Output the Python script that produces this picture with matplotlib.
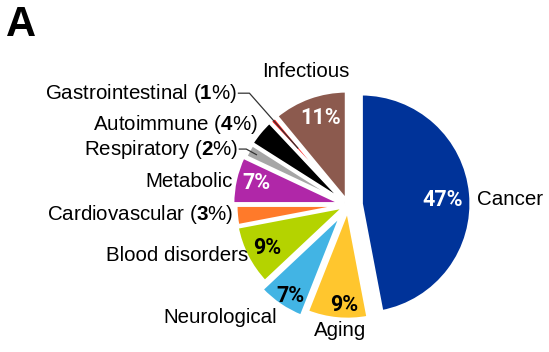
import numpy as np
import matplotlib
matplotlib.use('Agg')
import matplotlib.pyplot as plt

# data, clockwise from 12 o'clock
categories = ['Cancer', 'Aging', 'Neurological', 'Blood disorders', 'Cardiovascular',
              'Metabolic', 'Respiratory', 'Autoimmune', 'Gastrointestinal', 'Infectious']
shares = [47, 9, 7, 9, 3, 7, 2, 4, 1, 11]
# big slices show the percentage inside, small ones in the label
pct_inside = [True, True, True, True, False, True, False, False, False, True]

# styling
colors = ['#003399', '#FFC62E', '#42B4E4', '#B4D300', '#FF7A2A',
          '#B027A8', '#A6A6A6', '#000000', '#FF1A1A', '#8C5A4E']
explode = [0.12, 0.04, 0.10, 0.03, 0.02, 0.05, 0.03, 0.04, 0.04, 0.04]
label_r = [1.17, 1.14, 1.21, 1.02, 1.05, 1.07, 1.12, 1.10, 1.43, 1.27]
label_nudge = [-3, 2, 2, 0, -0.5, 1.3, 1.8, -2, 3.3, -2.3]
label_ha = ['left', 'center', 'right', 'right', 'right', 'right', 'right', 'right', 'right', 'center']
pct_r = [0.86, 0.91, 0.98, 0.83, 0, 0.86, 0, 0, 0, 0.83]
pct_nudge = [-2.5, 3.5, 2, 1.3, 0, -1, 0, 0, 0, -2]
pct_color = ['white', 'black', 'black', 'black', None, 'white', None, None, None, 'white']
leaders = {'Gastrointestinal': 0.69, 'Respiratory': 0.95}  # radius where leader ends

plt.rcParams['font.family'] = ['Liberation Sans', 'DejaVu Sans']
plt.rcParams['mathtext.fontset'] = 'custom'
plt.rcParams['mathtext.rm'] = 'Liberation Sans'
plt.rcParams['mathtext.bf'] = 'Liberation Sans:bold'

fig = plt.figure(figsize=(5.49, 3.52), dpi=100)
ax = fig.add_axes([0, 0, 1, 1])
wedges, _ = ax.pie(shares, colors=colors, explode=explode, startangle=90, counterclock=False,
                   wedgeprops=dict(edgecolor='white', linewidth=2.5))

R = 110.0
ax.set_xlim(-348 / R, (549 - 348) / R)
ax.set_ylim(-(352 - 205) / R, 205 / R)
ax.set_axis_off()


def polar(r, deg):
    a = np.radians(deg)
    return r * np.cos(a), r * np.sin(a)


for i, w in enumerate(wedges):
    mid = (w.theta1 + w.theta2) / 2
    name = categories[i]
    if pct_inside[i]:
        text = name
    else:
        text = f'{name} ($\\mathbf{{{shares[i]}}}$%)'
    x, y = polar(label_r[i], mid + label_nudge[i])
    ax.text(x, y, text, ha=label_ha[i], va='center', fontsize=14.8, color='black')

    if pct_inside[i]:
        px, py = polar(pct_r[i], mid + pct_nudge[i])
        ax.text(px, py, f'{shares[i]}%', ha='center', va='center', fontsize=15.5,
                fontweight='bold', color=pct_color[i],
                family=['Liberation Sans Narrow', 'Roboto'])

    if name in leaders:
        a = np.radians(mid)
        r_elbow = y / np.sin(a)
        ex, ey = polar(r_elbow, mid)
        sx, sy = polar(leaders[name], mid)
        ax.plot([x + 0.01, ex, sx], [y, ey, sy], color='#333333', lw=0.9)

fig.text(0.01, 0.985, 'A', fontsize=30, fontweight='bold', va='top', ha='left')

fig.savefig('out.png', dpi=100)
